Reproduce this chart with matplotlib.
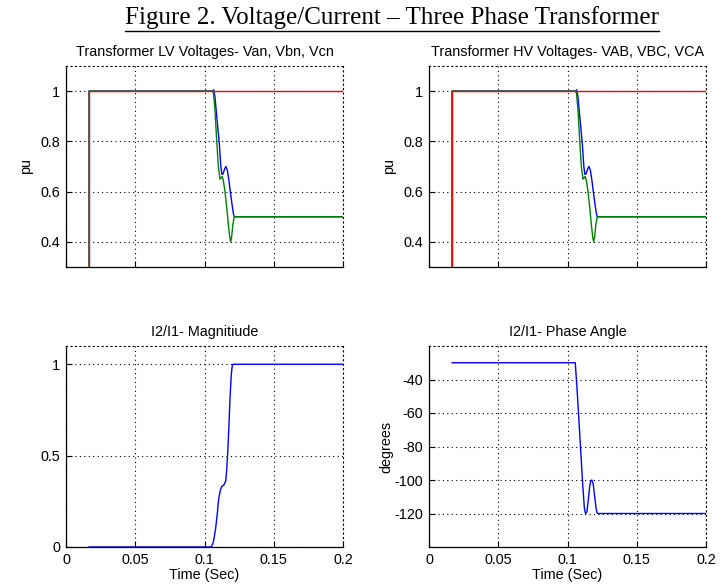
import matplotlib
matplotlib.use("Agg")
import matplotlib.pyplot as plt
from matplotlib.lines import Line2D

# ---------------- data ----------------
# LV / HV voltages (pu)
t_red = [0.0167, 0.0167, 0.2]
v_red = [0.0, 1.0, 1.0]

t_blue = [0.0167, 0.0167, 0.1060, 0.1066, 0.1075, 0.1090, 0.1107, 0.1118, 0.1126,
          0.1135, 0.1145, 0.1155, 0.1165, 0.1175, 0.1184, 0.1196, 0.1208, 0.1215, 0.2]
v_blue = [0.0, 1.0, 1.0, 1.005, 0.98, 0.89, 0.79, 0.70, 0.668,
          0.672, 0.69, 0.70, 0.685, 0.65, 0.61, 0.56, 0.515, 0.50, 0.50]

t_green = [0.0167, 0.0167, 0.1058, 0.1065, 0.1075, 0.1088, 0.1100, 0.1112, 0.1120,
           0.1127, 0.1136, 0.1148, 0.1160, 0.1172, 0.1182, 0.1189, 0.1196, 0.1205, 0.1215, 0.2]
v_green = [0.0, 1.0, 1.0, 0.99, 0.93, 0.805, 0.70, 0.65, 0.655,
           0.66, 0.645, 0.60, 0.54, 0.47, 0.42, 0.40, 0.42, 0.47, 0.50, 0.50]

# I2/I1 magnitude
t_mag = [0.0167, 0.1050, 0.1065, 0.1080, 0.1092, 0.1102, 0.1114, 0.1124, 0.1140,
         0.1153, 0.1160, 0.1168, 0.1176, 0.1184, 0.1193, 0.1200, 0.1205, 0.2]
v_mag = [0.0, 0.0, 0.03, 0.10, 0.18, 0.26, 0.31, 0.33, 0.34,
         0.36, 0.42, 0.52, 0.66, 0.81, 0.94, 0.99, 1.0, 1.0]

# I2/I1 phase angle (degrees)
t_ph = [0.0167, 0.1056, 0.1070, 0.1090, 0.1110, 0.1122, 0.1130, 0.1140, 0.1150,
        0.1160, 0.1168, 0.1176, 0.1185, 0.1195, 0.1205, 0.1213, 0.1220, 0.2]
v_ph = [-30, -30, -47, -75, -103, -117, -120, -119, -112,
        -104, -100.5, -100, -102, -109, -116, -119.5, -120, -120]

x_ticks = [0, 0.05, 0.1, 0.15, 0.2]
x_ticklabels = ["0", "0.05", "0.1", "0.15", "0.2"]
v_yticks = [0.4, 0.6, 0.8, 1.0]
v_yticklabels = ["0.4", "0.6", "0.8", "1"]
mag_yticks = [0, 0.5, 1.0]
mag_yticklabels = ["0", "0.5", "1"]
ph_yticks = [-120, -100, -80, -60, -40]
ph_yticklabels = ["-120", "-100", "-80", "-60", "-40"]

titles = ["Transformer LV Voltages- Van, Vbn, Vcn",
          "Transformer HV Voltages- VAB, VBC, VCA",
          "I2/I1- Magnitiude",
          "I2/I1- Phase Angle"]
fig_title = "Figure 2. Voltage/Current \u2013 Three Phase Transformer"

# ---------------- figure ----------------
W, H = 725, 586
plt.rcParams['font.family'] = ['Liberation Sans', 'DejaVu Sans']
plt.rcParams['axes.unicode_minus'] = False
fig = plt.figure(figsize=(W / 100, H / 100), dpi=100)

FS = 10.4

def px_axes(l, t, r, b):
    return fig.add_axes([l / W, 1 - b / H, (r - l) / W, (b - t) / H])

ax_tl = px_axes(66, 66, 343, 267)
ax_tr = px_axes(429, 66, 706, 267)
ax_bl = px_axes(66, 346, 343, 547)
ax_br = px_axes(429, 346, 706, 547)

grid_ls = (0, (1, 3))

def style(ax, title):
    ax.set_xlim(0, 0.2)
    ax.set_xticks(x_ticks)
    ax.grid(True, color='black', linestyle=grid_ls, linewidth=0.8)
    ax.tick_params(direction='in', length=4, width=0.8, labelsize=FS,
                   top=False, right=False, pad=4)
    for s in ['top', 'right']:
        ax.spines[s].set_linestyle(grid_ls)
        ax.spines[s].set_linewidth(0.8)
    for s in ['left', 'bottom']:
        ax.spines[s].set_linewidth(0.9)
    ax.set_title(title, fontsize=FS, pad=7)

for ax, ttl in [(ax_tl, titles[0]), (ax_tr, titles[1])]:
    ax.plot(t_blue, v_blue, color=(0, 0, 1), lw=1.0)
    ax.plot(t_green, v_green, color=(0, 0.5, 0), lw=1.0)
    ax.plot(t_red, v_red, color=(1, 0, 0), lw=1.0)
    ax.set_ylim(0.3, 1.1)
    ax.set_yticks(v_yticks)
    ax.set_yticklabels(v_yticklabels)
    ax.set_xticklabels([])
    style(ax, ttl)
    ax.set_ylabel("pu", fontsize=FS)
    ax.yaxis.set_label_coords(-33 / 277, 0.5)

ax_bl.plot(t_mag, v_mag, color=(0, 0, 1), lw=1.0)
ax_bl.set_ylim(0, 1.1)
ax_bl.set_yticks(mag_yticks)
ax_bl.set_yticklabels(mag_yticklabels)
style(ax_bl, titles[2])
ax_bl.set_xticklabels(x_ticklabels)

ax_br.plot(t_ph, v_ph, color=(0, 0, 1), lw=1.0)
ax_br.set_ylim(-140, -20)
ax_br.set_yticks(ph_yticks)
ax_br.set_yticklabels(ph_yticklabels)
style(ax_br, titles[3])
ax_br.set_xticklabels(x_ticklabels)
ax_br.set_ylabel("degrees", fontsize=FS)
ax_br.yaxis.set_label_coords(-36 / 277, 0.5)

for ax in (ax_bl, ax_br):
    ax.set_xlabel("Time (Sec)", fontsize=FS)
    ax.xaxis.set_label_coords(0.5, -21 / 201)

# Figure title, underlined
ft = fig.text(392 / W, 1 - 18 / H, fig_title, ha='center', va='center',
              fontsize=18, family=['Liberation Serif', 'DejaVu Serif'])
fig.canvas.draw()
bb = ft.get_window_extent(renderer=fig.canvas.get_renderer())
y_ul = 1 - 31 / H
fig.add_artist(Line2D([bb.x0 / W, bb.x1 / W], [y_ul, y_ul], color='black',
                      lw=1.0, transform=fig.transFigure))

fig.savefig("out.png", dpi=100)
